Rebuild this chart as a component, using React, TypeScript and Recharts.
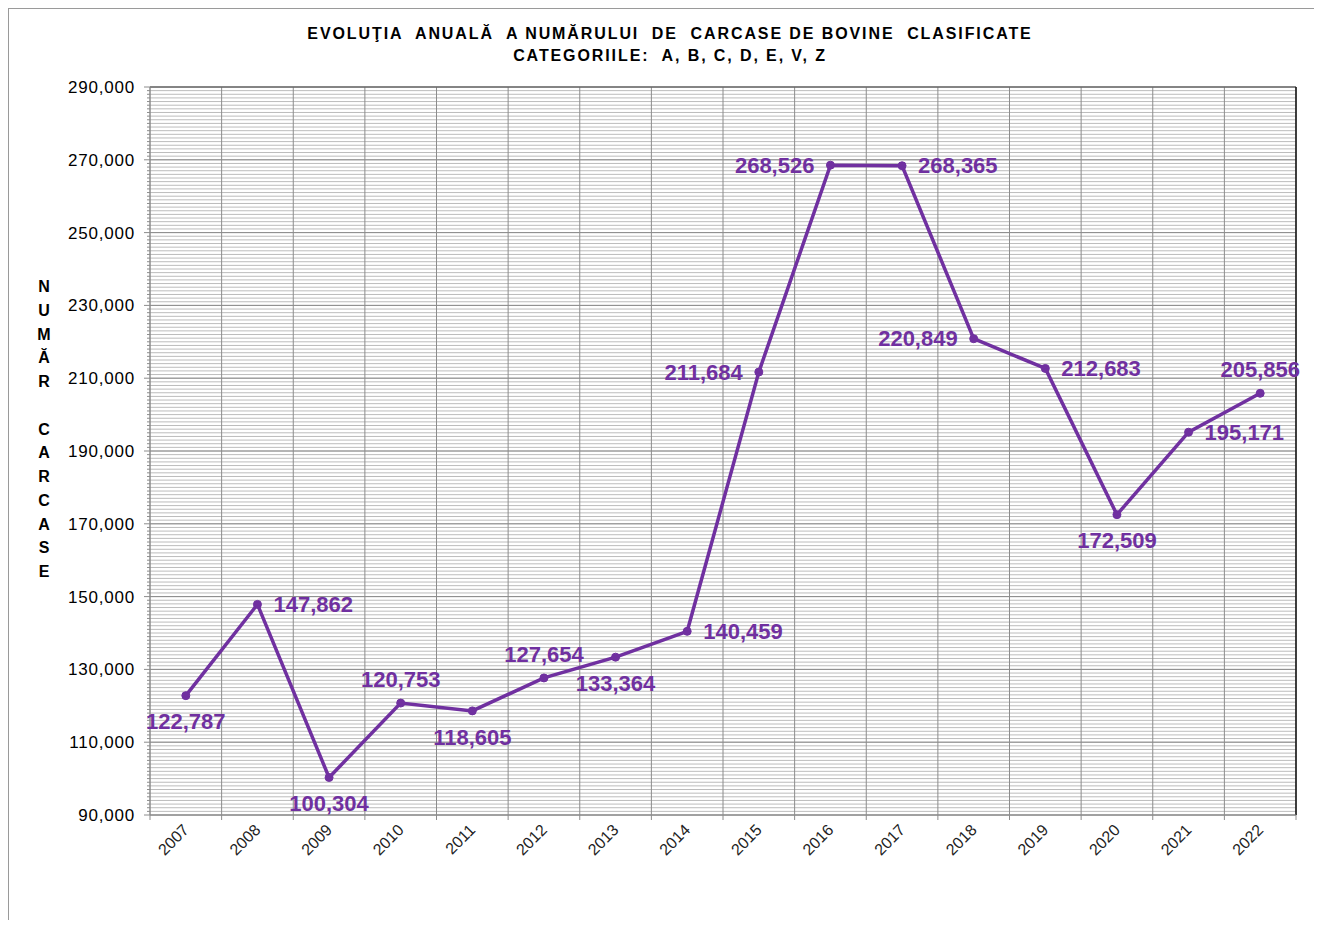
import {
  CartesianGrid,
  LabelList,
  Line,
  LineChart,
  ReferenceLine,
  XAxis,
  YAxis,
} from 'recharts';

const years = [
  '2007', '2008', '2009', '2010', '2011', '2012', '2013', '2014',
  '2015', '2016', '2017', '2018', '2019', '2020', '2021', '2022',
];

const carcase = [
  122787, 147862, 100304, 120753, 118605, 127654, 133364, 140459,
  211684, 268526, 268365, 220849, 212683, 172509, 195171, 205856,
];

const yTicks = [90000, 110000, 130000, 150000, 170000, 190000, 210000, 230000, 250000, 270000, 290000];
const minorTicks = Array.from({ length: 201 }, (_, i) => 90000 + i * 1000);
const bandEdges = Array.from({ length: years.length + 1 }, (_, i) => i);
const bandCenters = years.map((_, i) => i + 0.5);
// x ticks: band edges get a tick mark, band centres get the year
const xTicks = Array.from({ length: years.length * 2 + 1 }, (_, i) => i / 2);

// where each value label sits relative to its point
const labelSide = [
  'bottom', 'right', 'bottom', 'top', 'bottom', 'top', 'bottom', 'right',
  'left', 'left', 'right', 'left', 'right', 'bottom', 'right', 'top',
];

const yAxisLetters = ['N', 'U', 'M', 'Ă', 'R', ' ', 'C', 'A', 'R', 'C', 'A', 'S', 'E'];

const data = years.map((year, i) => ({ year, pos: bandCenters[i], value: carcase[i] }));

const FONT = '"Liberation Sans", Arial, sans-serif';
const PURPLE = '#7030a0';
const AXIS = '#8c8c8c';

const fmt = (v: number) => Number(v).toLocaleString('en-US');

function PointLabel(props: any) {
  const { x, y, value, index } = props;
  const side = labelSide[index];
  let tx = x;
  let ty = y;
  let anchor: 'start' | 'middle' | 'end' = 'middle';
  if (side === 'right') {
    tx = x + 16;
    anchor = 'start';
  } else if (side === 'left') {
    tx = x - 16;
    anchor = 'end';
  } else if (side === 'top') {
    ty = y - 24;
  } else {
    ty = y + 26;
  }
  return (
    <text
      x={tx}
      y={ty}
      dy="0.35em"
      textAnchor={anchor}
      fill={PURPLE}
      fontFamily={FONT}
      fontSize={22}
      fontWeight={700}
    >
      {fmt(value)}
    </text>
  );
}

function XTick(props: any) {
  const { x, y, payload } = props;
  const v = payload.value;
  if (Number.isInteger(v)) {
    return <line x1={x} y1={y} x2={x} y2={y + 5} stroke={AXIS} />;
  }
  const tx = x + 4;
  const ty = y + 16;
  return (
    <text
      x={tx}
      y={ty}
      transform={`rotate(-45, ${tx}, ${ty})`}
      textAnchor="end"
      fill="#222"
      fontFamily={FONT}
      fontSize={16}
    >
      {years[Math.floor(v)]}
    </text>
  );
}

function YTick(props: any) {
  const { x, y, payload } = props;
  const major = payload.value % 20000 === 10000;
  return (
    <g>
      <line x1={x - (major ? 6 : 3)} y1={y} x2={x} y2={y} stroke={AXIS} />
      {major && (
        <text
          x={x - 15}
          y={y}
          dy="0.35em"
          textAnchor="end"
          fill="#000"
          fontFamily={FONT}
          fontSize={17}
          letterSpacing={0.8}
        >
          {fmt(payload.value)}
        </text>
      )}
    </g>
  );
}

export default function App() {
  return (
    <div
      style={{
        position: 'relative',
        width: 1314,
        height: 912,
        borderTop: '1px solid #9a9a9a',
        borderLeft: '1px solid #9a9a9a',
        boxSizing: 'border-box',
        background: '#fff',
        fontFamily: FONT,
      }}
    >
      <style>{'body{overflow:hidden}'}</style>
      <div
        style={{
          position: 'absolute',
          top: 14,
          left: 211,
          width: 900,
          textAlign: 'center',
          fontSize: 16,
          fontWeight: 700,
          lineHeight: '22px',
          letterSpacing: 1.9,
          whiteSpace: 'pre',
          color: '#000',
        }}
      >
        <div>EVOLUŢIA  ANUALĂ  A NUMĂRULUI  DE  CARCASE DE BOVINE  CLASIFICATE</div>
        <div>CATEGORIILE:  A, B, C, D, E, V, Z</div>
      </div>

      <div
        style={{
          position: 'absolute',
          top: 266,
          left: 25,
          width: 20,
          textAlign: 'center',
          fontSize: 16,
          fontWeight: 700,
          color: '#000',
        }}
      >
        {yAxisLetters.map((ch, i) => (
          <div key={i} style={{ height: 23.75, lineHeight: '23.75px', whiteSpace: 'pre' }}>
            {ch}
          </div>
        ))}
      </div>

      <div style={{ position: 'absolute', top: 0, left: 0 }}>
        <LineChart
          width={1305}
          height={911}
          data={data}
          margin={{ top: 78, right: 18, bottom: 45, left: 61 }}
        >
          <XAxis
            type="number"
            dataKey="pos"
            domain={[0, years.length]}
            ticks={xTicks}
            interval={0}
            height={60}
            stroke={AXIS}
            tickLine={false}
            tickSize={0}
            tickMargin={0}
            tick={<XTick />}
          />
          <YAxis
            domain={[90000, 290000]}
            ticks={minorTicks}
            interval={0}
            width={80}
            stroke={AXIS}
            tickLine={false}
            tickSize={0}
            tickMargin={0}
            tick={<YTick />}
          />
          <CartesianGrid
            vertical={false}
            horizontalValues={minorTicks}
            stroke="#bcbcbc"
          />
          <CartesianGrid
            horizontalValues={yTicks}
            verticalValues={bandEdges}
            stroke={AXIS}
          />
          <ReferenceLine y={290000} stroke="#555" />
          <ReferenceLine x={years.length} stroke="#111" strokeWidth={1.5} />
          <Line
            type="linear"
            dataKey="value"
            stroke={PURPLE}
            strokeWidth={3.5}
            dot={{ r: 4, fill: PURPLE, stroke: PURPLE, strokeWidth: 1 }}
            activeDot={false}
            isAnimationActive={false}
          >
            <LabelList dataKey="value" content={<PointLabel />} />
          </Line>
        </LineChart>
      </div>
    </div>
  );
}
